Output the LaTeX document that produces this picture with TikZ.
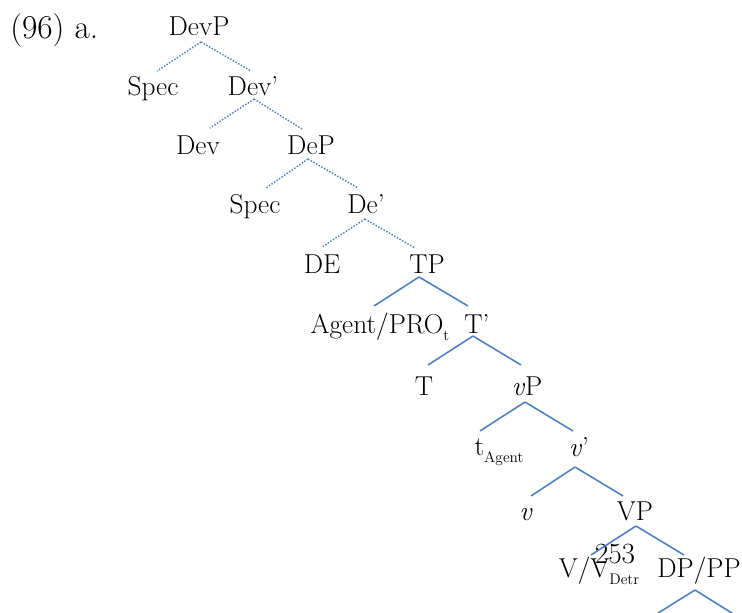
\documentclass[tikz,border=0pt]{standalone}
\usepackage{fontspec}
\definecolor{treeblue}{HTML}{4F81BD}
\newcommand{\lsub}[1]{\raisebox{-0.28em}{\fontsize{11.5}{12}\selectfont #1}}
\tikzset{
  lab/.style={anchor=base, inner sep=0pt, font=\fontsize{20.5}{24}\selectfont},
  dotline/.style={draw=treeblue, line width=1.1pt, dash pattern=on 1.1pt off 1.2pt},
  solline/.style={draw=treeblue, line width=1.2pt},
}
\begin{document}
\begin{tikzpicture}[x=0.75pt, y=-0.75pt]
\useasboundingbox (0,0) rectangle (742,613);
\clip (0,0) rectangle (742,613);
% numbering
\node[anchor=base west, inner sep=0pt, font={\fontsize{25}{29}\selectfont}] (num) at (10,39) {(96) a.};
% labels
\node[lab] (devp) at (199,36) {DevP};
\node[lab] (spec1) at (153,96) {Spec};
\node[lab] (devbar) at (253,96) {Dev’};
\node[lab] (dev) at (198,155) {Dev};
\node[lab] (dep) at (311,155) {DeP};
\node[lab] (spec2) at (255,214) {Spec};
\node[lab] (debar) at (366,214) {De’};
\node[lab] (de) at (322,273) {DE};
\node[lab] (tp) at (427,273) {TP};
\node[lab] (agent) at (380,333) {Agent/PRO\lsub{t}};
\node[lab] (tbar) at (477,333) {T’};
\node[lab] (t) at (424,395) {T};
\node[lab] (vp) at (527,395) {\textit{v}P};
\node[lab] (tagent) at (499,455) {t\lsub{Agent}};
\node[lab] (vbar) at (579,456) {\textit{v}’};
\node[lab] (v) at (526,520) {\textit{v}};
\node[lab] (VP) at (635,520) {VP};
\node[lab] (vdetr) at (599,577) {V/V\lsub{Detr}};
\node[lab] (dppp) at (699,577) {DP/PP};
\node[anchor=base, inner sep=0pt, font={\fontsize{22}{26}\selectfont}] (page) at (615,563) {253};
% dotted branches
\draw[dotline] ([shift={(2,6)}]devp.base) -- ([shift={(4,-25)}]spec1.base);
\draw[dotline] ([shift={(2,6)}]devp.base) -- ([shift={(-2,-25)}]devbar.base);
\draw[dotline] ([shift={(1,3)}]devbar.base) -- ([shift={(12,-27)}]dev.base);
\draw[dotline] ([shift={(1,3)}]devbar.base) -- ([shift={(-9,-26)}]dep.base);
\draw[dotline] ([shift={(-3,4)}]dep.base) -- ([shift={(11,-26)}]spec2.base);
\draw[dotline] ([shift={(-3,4)}]dep.base) -- ([shift={(-8,-26)}]debar.base);
\draw[dotline] ([shift={(-1,5)}]debar.base) -- ([shift={(0,-26)}]de.base);
\draw[dotline] ([shift={(-1,5)}]debar.base) -- ([shift={(-12,-25)}]tp.base);
% solid branches
\draw[solline] ([shift={(-8,4)}]tp.base) -- ([shift={(-6,-27)}]agent.base);
\draw[solline] ([shift={(-8,4)}]tp.base) -- ([shift={(-9,-27)}]tbar.base);
\draw[solline] ([shift={(-4,3)}]tbar.base) -- ([shift={(4,-30)}]t.base);
\draw[solline] ([shift={(-4,3)}]tbar.base) -- ([shift={(-6,-30)}]vp.base);
\draw[solline] ([shift={(-2,7)}]vp.base) -- ([shift={(-19,-24)}]tagent.base);
\draw[solline] ([shift={(-2,7)}]vp.base) -- ([shift={(-6,-25)}]vbar.base);
\draw[solline] ([shift={(-4,11)}]vbar.base) -- ([shift={(5,-24)}]v.base);
\draw[solline] ([shift={(-4,11)}]vbar.base) -- ([shift={(-12,-24)}]VP.base);
\draw[solline] ([shift={(1,6)}]VP.base) -- ([shift={(-8,-22)}]vdetr.base);
\draw[solline] ([shift={(1,6)}]VP.base) -- ([shift={(-15,-22)}]dppp.base);
\coordinate (dl) at (647,620);
\coordinate (dr) at (743,620);
\draw[solline] ([shift={(-4,13)}]dppp.base) -- (dl);
\draw[solline] ([shift={(-4,13)}]dppp.base) -- (dr);
\end{tikzpicture}
\end{document}
